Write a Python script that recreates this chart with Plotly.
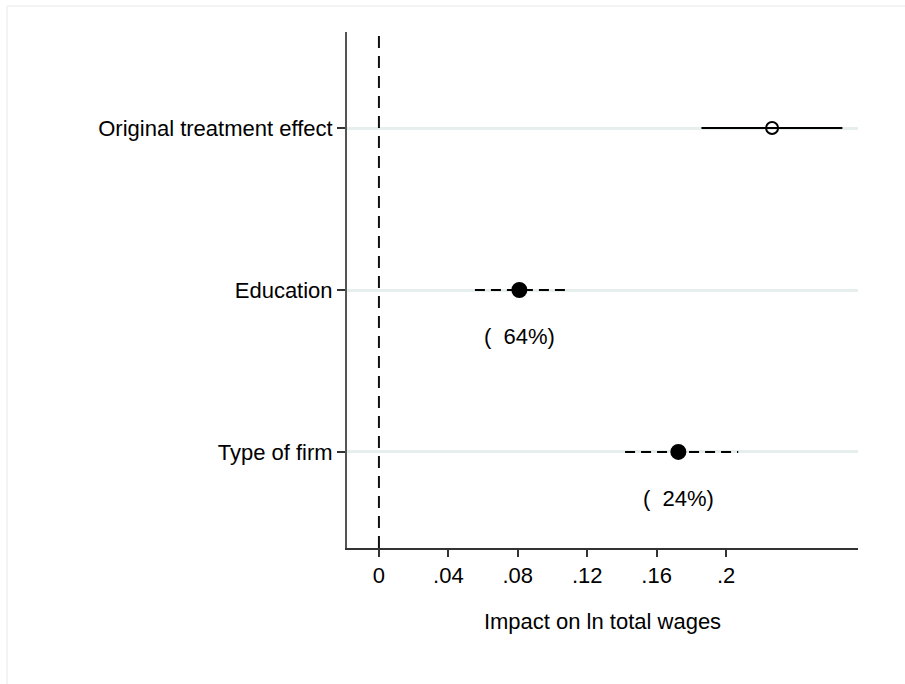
import plotly.graph_objects as go

labels = ["Original treatment effect", "Education", "Type of firm"]
estimates = [0.2265, 0.0809, 0.1725]
lower = [0.1858, 0.0553, 0.1418]
upper = [0.2670, 0.1072, 0.2070]
shares = ["", "(\u00a0\u00a064%)", "(\u00a0\u00a024%)"]
xtick_vals = [0, 0.04, 0.08, 0.12, 0.16, 0.2]
xtick_text = ["0", ".04", ".08", ".12", ".16", ".2"]

FONT = "Liberation Sans, Arial, Helvetica, sans-serif"
FS = 22
W, H = 905, 684
L, R, T, B = 347, 47, 32, 136
pw, ph = W - L - R, H - T - B

fig = go.Figure()
ypos = list(range(len(labels)))

for i, lab in enumerate(labels):
    dash = "solid" if i == 0 else "10px,6px"
    fig.add_trace(go.Scatter(
        x=[lower[i], upper[i]], y=[ypos[i], ypos[i]], mode="lines",
        line=dict(color="black", width=2, dash=dash), showlegend=False, hoverinfo="skip"))
    fig.add_trace(go.Scatter(
        x=[estimates[i]], y=[ypos[i]], mode="markers",
        marker=dict(symbol="circle-open" if i == 0 else "circle",
                    size=12 if i == 0 else 14, color="black",
                    line=dict(color="black", width=2)),
        showlegend=False))
    if shares[i]:
        fig.add_annotation(x=estimates[i], y=ypos[i] + 0.29, text=shares[i],
                           showarrow=False, font=dict(size=FS, color="black", family=FONT))

fig.add_shape(type="line", xref="x", yref="paper", x0=0, x1=0, y0=0, y1=1,
              line=dict(color="#111111", width=2, dash="12px,8px"))

# faint outer frame
def px_x(p):
    return (p - L) / pw
def px_y(p):
    return (H - B - p) / ph
fig.add_shape(type="line", xref="paper", yref="paper", x0=px_x(7), x1=px_x(910),
              y0=px_y(6), y1=px_y(6), line=dict(color="#e8e8e8", width=1))
fig.add_shape(type="line", xref="paper", yref="paper", x0=px_x(7), x1=px_x(7),
              y0=px_y(6), y1=px_y(690), line=dict(color="#e8e8e8", width=1))

fig.update_layout(
    width=W, height=H,
    margin=dict(l=L, r=R, t=T, b=B),
    plot_bgcolor="white", paper_bgcolor="white",
    font=dict(family=FONT, size=FS, color="black"),
    xaxis=dict(range=[-0.0184, 0.276], tickvals=xtick_vals, ticktext=xtick_text,
               showgrid=False, zeroline=False, showline=True, linecolor="#333333",
               linewidth=2, ticks="outside", ticklen=7, tickwidth=1.5, tickcolor="#333333",
               tickfont=dict(size=FS, color="black"),
               title=dict(text="Impact on ln total wages", font=dict(size=FS), standoff=26)),
    yaxis=dict(range=[2.593, -0.593], tickvals=ypos, ticktext=labels,
               showgrid=True, gridcolor="#e6eeee", gridwidth=3, zeroline=False,
               showline=True, linecolor="#555555", linewidth=2,
               ticks="outside", ticklen=8, tickwidth=1.5, tickcolor="#333333",
               tickfont=dict(size=FS, color="black")),
)

fig.write_html("out.html")
